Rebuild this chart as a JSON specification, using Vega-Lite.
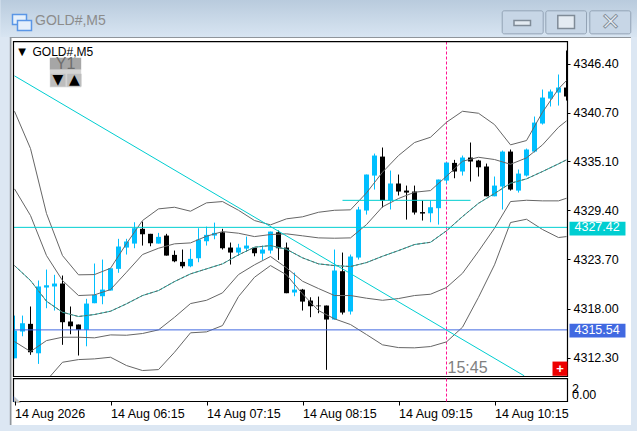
{
  "$schema": "https://vega.github.io/schema/vega-lite/v6.json",
  "autosize": {"type": "none"},
  "width": 621,
  "height": 387,
  "padding": {"left": 10, "top": 38, "right": 6, "bottom": 6},
  "background": "#dce7f3",
  "view": {"fill": "white", "stroke": null},
  "title": {"text": "GOLD#,M5", "anchor": "start", "frame": "group", "dx": 25, "offset": -28, "font": "Liberation Sans", "fontSize": 14, "fontWeight": "normal", "color": "#8c8c8c", "zindex": 1},
  "config": {"axis": {"title": null, "grid": false, "domain": false, "labelFont": "Liberation Sans", "labelFontSize": 12.5, "labelColor": "black", "tickColor": "black", "tickSize": 3}},
  "datasets": {
    "candles": [
      {"t":"2026-08-14T05:15:00Z","o":4312.25,"h":4317.20,"l":4312.25,"c":4315.46},
      {"t":"2026-08-14T05:20:00Z","o":4315.35,"h":4317.20,"l":4314.80,"c":4316.31},
      {"t":"2026-08-14T05:25:00Z","o":4316.24,"h":4318.25,"l":4312.65,"c":4312.95},
      {"t":"2026-08-14T05:30:00Z","o":4312.83,"h":4321.26,"l":4311.60,"c":4320.57},
      {"t":"2026-08-14T05:35:00Z","o":4320.45,"h":4322.53,"l":4318.05,"c":4320.71},
      {"t":"2026-08-14T05:40:00Z","o":4320.57,"h":4321.92,"l":4317.78,"c":4320.91},
      {"t":"2026-08-14T05:45:00Z","o":4320.91,"h":4321.84,"l":4313.81,"c":4316.43},
      {"t":"2026-08-14T05:50:00Z","o":4316.51,"h":4318.25,"l":4315.04,"c":4315.96},
      {"t":"2026-08-14T05:55:00Z","o":4316.16,"h":4316.16,"l":4312.57,"c":4315.55},
      {"t":"2026-08-14T06:00:00Z","o":4315.55,"h":4319.14,"l":4313.64,"c":4318.59},
      {"t":"2026-08-14T06:05:00Z","o":4318.63,"h":4323.23,"l":4318.63,"c":4319.60},
      {"t":"2026-08-14T06:10:00Z","o":4319.44,"h":4323.69,"l":4318.51,"c":4320.21},
      {"t":"2026-08-14T06:15:00Z","o":4320.10,"h":4322.68,"l":4320.10,"c":4322.68},
      {"t":"2026-08-14T06:20:00Z","o":4322.61,"h":4326.09,"l":4322.15,"c":4325.20},
      {"t":"2026-08-14T06:25:00Z","o":4325.08,"h":4326.09,"l":4324.27,"c":4325.78},
      {"t":"2026-08-14T06:30:00Z","o":4325.54,"h":4328.01,"l":4325.00,"c":4327.32},
      {"t":"2026-08-14T06:35:00Z","o":4327.25,"h":4328.09,"l":4325.31,"c":4326.62},
      {"t":"2026-08-14T06:40:00Z","o":4326.67,"h":4326.67,"l":4325.23,"c":4325.58},
      {"t":"2026-08-14T06:45:00Z","o":4325.54,"h":4326.78,"l":4325.54,"c":4326.32},
      {"t":"2026-08-14T06:50:00Z","o":4326.47,"h":4326.67,"l":4324.15,"c":4324.15},
      {"t":"2026-08-14T06:55:00Z","o":4324.23,"h":4324.73,"l":4323.38,"c":4323.49},
      {"t":"2026-08-14T07:00:00Z","o":4323.42,"h":4324.85,"l":4322.68,"c":4322.91},
      {"t":"2026-08-14T07:05:00Z","o":4322.91,"h":4324.93,"l":4322.80,"c":4323.77},
      {"t":"2026-08-14T07:10:00Z","o":4323.84,"h":4327.32,"l":4323.38,"c":4326.01},
      {"t":"2026-08-14T07:15:00Z","o":4325.81,"h":4327.51,"l":4325.31,"c":4326.55},
      {"t":"2026-08-14T07:20:00Z","o":4326.47,"h":4327.97,"l":4326.04,"c":4326.78},
      {"t":"2026-08-14T07:25:00Z","o":4326.85,"h":4327.25,"l":4324.85,"c":4325.00},
      {"t":"2026-08-14T07:30:00Z","o":4325.08,"h":4325.66,"l":4323.11,"c":4324.50},
      {"t":"2026-08-14T07:35:00Z","o":4324.50,"h":4325.51,"l":4324.12,"c":4325.08},
      {"t":"2026-08-14T07:40:00Z","o":4324.96,"h":4326.35,"l":4324.58,"c":4325.31},
      {"t":"2026-08-14T07:45:00Z","o":4325.05,"h":4325.05,"l":4324.07,"c":4324.42},
      {"t":"2026-08-14T07:50:00Z","o":4324.38,"h":4325.31,"l":4323.65,"c":4324.85},
      {"t":"2026-08-14T07:55:00Z","o":4324.73,"h":4326.93,"l":4324.38,"c":4326.93},
      {"t":"2026-08-14T08:00:00Z","o":4326.85,"h":4327.05,"l":4323.65,"c":4325.00},
      {"t":"2026-08-14T08:05:00Z","o":4325.08,"h":4325.66,"l":4319.79,"c":4319.79},
      {"t":"2026-08-14T08:10:00Z","o":4319.87,"h":4322.18,"l":4319.44,"c":4320.21},
      {"t":"2026-08-14T08:15:00Z","o":4320.21,"h":4320.29,"l":4317.78,"c":4318.82},
      {"t":"2026-08-14T08:20:00Z","o":4318.94,"h":4319.32,"l":4317.01,"c":4318.28},
      {"t":"2026-08-14T08:25:00Z","o":4318.36,"h":4319.40,"l":4317.47,"c":4318.28},
      {"t":"2026-08-14T08:30:00Z","o":4318.36,"h":4318.36,"l":4310.91,"c":4316.74},
      {"t":"2026-08-14T08:35:00Z","o":4316.74,"h":4324.85,"l":4316.74,"c":4322.42},
      {"t":"2026-08-14T08:40:00Z","o":4322.34,"h":4324.50,"l":4317.32,"c":4317.55},
      {"t":"2026-08-14T08:45:00Z","o":4317.67,"h":4324.27,"l":4317.32,"c":4324.04},
      {"t":"2026-08-14T08:50:00Z","o":4323.92,"h":4329.80,"l":4323.69,"c":4329.49},
      {"t":"2026-08-14T08:55:00Z","o":4329.37,"h":4333.54,"l":4328.90,"c":4333.54},
      {"t":"2026-08-14T09:00:00Z","o":4333.42,"h":4335.97,"l":4331.80,"c":4335.74},
      {"t":"2026-08-14T09:05:00Z","o":4335.62,"h":4336.67,"l":4329.72,"c":4330.53},
      {"t":"2026-08-14T09:10:00Z","o":4330.53,"h":4334.00,"l":4329.49,"c":4332.50},
      {"t":"2026-08-14T09:15:00Z","o":4332.50,"h":4333.54,"l":4331.11,"c":4331.57},
      {"t":"2026-08-14T09:20:00Z","o":4331.68,"h":4332.26,"l":4328.32,"c":4331.45},
      {"t":"2026-08-14T09:25:00Z","o":4331.57,"h":4332.26,"l":4328.90,"c":4329.14},
      {"t":"2026-08-14T09:30:00Z","o":4329.19,"h":4330.53,"l":4328.21,"c":4329.02},
      {"t":"2026-08-14T09:35:00Z","o":4329.05,"h":4330.53,"l":4328.01,"c":4329.75},
      {"t":"2026-08-14T09:40:00Z","o":4329.64,"h":4332.96,"l":4327.74,"c":4332.96},
      {"t":"2026-08-14T09:45:00Z","o":4332.84,"h":4334.93,"l":4332.50,"c":4334.93},
      {"t":"2026-08-14T09:50:00Z","o":4334.89,"h":4335.24,"l":4333.11,"c":4333.89},
      {"t":"2026-08-14T09:55:00Z","o":4333.89,"h":4335.74,"l":4333.42,"c":4335.51},
      {"t":"2026-08-14T10:00:00Z","o":4335.51,"h":4337.25,"l":4332.73,"c":4335.05},
      {"t":"2026-08-14T10:05:00Z","o":4335.16,"h":4335.24,"l":4333.31,"c":4334.38},
      {"t":"2026-08-14T10:10:00Z","o":4334.47,"h":4334.81,"l":4331.02,"c":4331.02},
      {"t":"2026-08-14T10:15:00Z","o":4331.02,"h":4333.31,"l":4331.02,"c":4332.26},
      {"t":"2026-08-14T10:20:00Z","o":4332.15,"h":4336.32,"l":4329.49,"c":4336.20},
      {"t":"2026-08-14T10:25:00Z","o":4336.20,"h":4336.44,"l":4331.68,"c":4331.80},
      {"t":"2026-08-14T10:30:00Z","o":4331.68,"h":4334.12,"l":4331.45,"c":4333.65},
      {"t":"2026-08-14T10:35:00Z","o":4333.42,"h":4336.55,"l":4333.31,"c":4336.44},
      {"t":"2026-08-14T10:40:00Z","o":4336.20,"h":4340.26,"l":4336.09,"c":4339.56},
      {"t":"2026-08-14T10:45:00Z","o":4339.45,"h":4343.39,"l":4339.33,"c":4342.46},
      {"t":"2026-08-14T10:50:00Z","o":4342.34,"h":4343.39,"l":4341.42,"c":4343.16},
      {"t":"2026-08-14T10:55:00Z","o":4343.04,"h":4345.13,"l":4341.53,"c":4343.62},
      {"t":"2026-08-14T11:00:00Z","o":4343.62,"h":4347.91,"l":4342.11,"c":4342.58}
    ],
    "bands": [
      {"t":"2026-08-14T05:15:00Z","u2":4340.87,"u1":4331.88,"m":4322.99,"l1":4314.19},
      {"t":"2026-08-14T05:25:00Z","u2":4336.55,"u1":4328.79,"m":4321.26,"l1":4313.03},
      {"t":"2026-08-14T05:35:00Z","u2":4329.02,"u1":4324.15,"m":4318.86,"l1":4314.30,"l2":4309.67},
      {"t":"2026-08-14T05:45:00Z","u2":4324.15,"u1":4321.26,"m":4317.58,"l1":4314.69,"l2":4311.79},
      {"t":"2026-08-14T05:55:00Z","u2":4321.92,"u1":4319.52,"m":4317.09,"l1":4314.69,"l2":4312.10},
      {"t":"2026-08-14T06:05:00Z","u2":4321.95,"u1":4319.60,"m":4317.32,"l1":4314.62,"l2":4312.18},
      {"t":"2026-08-14T06:15:00Z","u2":4322.68,"u1":4320.21,"m":4317.70,"l1":4314.96,"l2":4312.37},
      {"t":"2026-08-14T06:25:00Z","u2":4325.54,"u1":4322.22,"m":4318.56,"l1":4314.92,"l2":4311.41},
      {"t":"2026-08-14T06:35:00Z","u2":4328.21,"u1":4324.27,"m":4319.52,"l1":4315.12,"l2":4310.83},
      {"t":"2026-08-14T06:45:00Z","u2":4329.56,"u1":4325.00,"m":4320.10,"l1":4315.54,"l2":4310.94},
      {"t":"2026-08-14T06:55:00Z","u2":4329.75,"u1":4325.51,"m":4321.14,"l1":4317.00,"l2":4312.95},
      {"t":"2026-08-14T07:05:00Z","u2":4329.29,"u1":4325.62,"m":4322.03,"l1":4318.59,"l2":4315.20},
      {"t":"2026-08-14T07:15:00Z","u2":4330.26,"u1":4326.39,"m":4322.61,"l1":4318.97,"l2":4315.31},
      {"t":"2026-08-14T07:25:00Z","u2":4330.41,"u1":4326.93,"m":4323.19,"l1":4319.83,"l2":4316.04},
      {"t":"2026-08-14T07:35:00Z","u2":4329.40,"u1":4326.74,"m":4324.23,"l1":4321.95,"l2":4319.40},
      {"t":"2026-08-14T07:45:00Z","u2":4328.21,"u1":4326.35,"m":4325.12,"l1":4323.08,"l2":4321.64},
      {"t":"2026-08-14T07:55:00Z","u2":4327.71,"u1":4326.59,"m":4325.31,"l1":4324.04,"l2":4322.99},
      {"t":"2026-08-14T08:05:00Z","u2":4328.41,"u1":4326.67,"m":4324.88,"l1":4322.73,"l2":4321.92},
      {"t":"2026-08-14T08:15:00Z","u2":4328.64,"u1":4326.44,"m":4323.89,"l1":4321.18,"l2":4319.71},
      {"t":"2026-08-14T08:25:00Z","u2":4329.17,"u1":4326.20,"m":4323.19,"l1":4320.33,"l2":4317.78},
      {"t":"2026-08-14T08:35:00Z","u2":4329.40,"u1":4326.16,"m":4322.99,"l1":4319.52,"l2":4316.82},
      {"t":"2026-08-14T08:45:00Z","u2":4329.45,"u1":4326.20,"m":4322.88,"l1":4319.52,"l2":4316.16},
      {"t":"2026-08-14T08:55:00Z","u2":4331.42,"u1":4327.74,"m":4323.34,"l1":4319.21,"l2":4315.00},
      {"t":"2026-08-14T09:05:00Z","u2":4333.81,"u1":4329.80,"m":4324.07,"l1":4318.97,"l2":4313.81},
      {"t":"2026-08-14T09:15:00Z","u2":4335.74,"u1":4330.76,"m":4324.73,"l1":4319.17,"l2":4313.49},
      {"t":"2026-08-14T09:25:00Z","u2":4337.25,"u1":4331.49,"m":4325.43,"l1":4319.52,"l2":4313.46},
      {"t":"2026-08-14T09:35:00Z","u2":4337.86,"u1":4331.68,"m":4325.69,"l1":4319.67,"l2":4313.61},
      {"t":"2026-08-14T09:45:00Z","u2":4339.60,"u1":4333.34,"m":4327.02,"l1":4320.45,"l2":4314.15},
      {"t":"2026-08-14T09:55:00Z","u2":4340.87,"u1":4335.08,"m":4328.67,"l1":4322.10,"l2":4315.85},
      {"t":"2026-08-14T10:05:00Z","u2":4340.64,"u1":4335.54,"m":4330.21,"l1":4324.65,"l2":4319.32},
      {"t":"2026-08-14T10:15:00Z","u2":4339.33,"u1":4335.28,"m":4331.34,"l1":4327.32,"l2":4323.08},
      {"t":"2026-08-14T10:25:00Z","u2":4336.98,"u1":4334.73,"m":4332.53,"l1":4330.41,"l2":4327.98},
      {"t":"2026-08-14T10:35:00Z","u2":4337.48,"u1":4335.47,"m":4333.04,"l1":4330.56,"l2":4328.36},
      {"t":"2026-08-14T10:45:00Z","u2":4340.76,"u1":4336.98,"m":4333.89,"l1":4330.49,"l2":4327.17},
      {"t":"2026-08-14T10:55:00Z","u2":4343.47,"u1":4339.02,"m":4334.78,"l1":4330.49,"l2":4326.24},
      {"t":"2026-08-14T11:00:00Z","u2":4344.43,"u1":4339.76,"m":4335.24,"l1":4330.79,"l2":4326.35}
    ],
    "levels": [
      {"level":"upper","p":4327.42,"label":"4327.42","t":"2026-08-14T05:14:22Z","t2":"2026-08-14T11:00:37Z","tagFrom":"2026-08-14T11:01:52Z","tagTo":"2026-08-14T11:36:52Z","tagTop":4328.06,"tagBottom":4326.47,"labelAt":"2026-08-14T11:05:00Z"},
      {"level":"lower","p":4315.54,"label":"4315.54","t":"2026-08-14T05:14:22Z","t2":"2026-08-14T11:00:37Z","tagFrom":"2026-08-14T11:01:52Z","tagTo":"2026-08-14T11:36:52Z","tagTop":4316.24,"tagBottom":4314.65,"labelAt":"2026-08-14T11:05:00Z"}
    ],
    "lines": [
      {"name":"trend","t":"2026-08-14T05:15:00Z","p":4344.97},
      {"name":"trend","t":"2026-08-14T10:33:34Z","p":4310.22},
      {"name":"segment","t":"2026-08-14T08:40:00Z","p":4330.55},
      {"name":"segment","t":"2026-08-14T10:00:00Z","p":4330.55}
    ],
    "marker": [
      {"pane":"main","t":"2026-08-14T09:45:00Z","p":4348.95,"p2":4310.14},
      {"pane":"sub","t":"2026-08-14T09:45:00Z","p":4309.90,"p2":4307.24}
    ],
    "window": [
      {"part":"edge","t":"2026-08-14T05:12:04Z","t2":"2026-08-14T05:13:07Z","p":4349.41,"p2":4304.52},
      {"part":"edge","t":"2026-08-14T05:12:04Z","t2":"2026-08-14T11:40:18Z","p":4349.47,"p2":4349.36},
      {"part":"icon","t":"2026-08-14T05:13:45Z","t2":"2026-08-14T05:22:30Z","p":4352.08,"p2":4350.92},
      {"part":"icon","t":"2026-08-14T05:16:52Z","t2":"2026-08-14T05:25:37Z","p":4351.38,"p2":4350.22}
    ],
    "buttons": [
      {"t":"2026-08-14T10:19:49Z","t2":"2026-08-14T10:45:26Z","p":4352.51,"p2":4349.84},
      {"t":"2026-08-14T10:47:04Z","t2":"2026-08-14T11:12:30Z","p":4352.51,"p2":4349.84},
      {"t":"2026-08-14T11:14:34Z","t2":"2026-08-14T11:40:10Z","p":4352.51,"p2":4349.84}
    ],
    "glyphs": [
      {"t":"2026-08-14T10:27:11Z","t2":"2026-08-14T10:37:30Z","p":4351.38,"p2":4350.80},
      {"t":"2026-08-14T10:54:34Z","t2":"2026-08-14T11:05:00Z","p":4351.96,"p2":4350.46}
    ],
    "cover": [
      {"t":"2026-08-14T05:14:22Z","t2":"2026-08-14T11:00:37Z","p":4310.14,"p2":4307.24},
      {"t":"2026-08-14T11:00:37Z","t2":"2026-08-14T11:02:00Z","p":4348.95,"p2":4307.24},
      {"t":"2026-08-14T05:13:30Z","t2":"2026-08-14T05:14:22Z","p":4348.95,"p2":4307.24}
    ],
    "panes": [
      {"t":"2026-08-14T05:14:22Z","t2":"2026-08-14T11:00:37Z","p":4348.95,"p2":4310.14},
      {"t":"2026-08-14T05:14:22Z","t2":"2026-08-14T11:00:37Z","p":4309.90,"p2":4307.24}
    ],
    "widgets": [
      {"part":"y1","t":"2026-08-14T05:37:04Z","t2":"2026-08-14T05:56:41Z","p":4347.06,"p2":4345.67},
      {"part":"panel","t":"2026-08-14T05:37:04Z","t2":"2026-08-14T05:56:41Z","p":4345.67,"p2":4343.65},
      {"part":"key","t":"2026-08-14T05:37:30Z","t2":"2026-08-14T05:46:52Z","p":4345.21,"p2":4343.74},
      {"part":"key","t":"2026-08-14T05:47:56Z","t2":"2026-08-14T05:56:52Z","p":4345.21,"p2":4343.74},
      {"part":"plus","t":"2026-08-14T10:51:15Z","t2":"2026-08-14T11:00:37Z","p":4311.87,"p2":4310.22}
    ],
    "notes": [
      {"kind":"symbol","t":"2026-08-14T05:26:15Z","p":4347.73,"text":"GOLD#,M5"},
      {"kind":"arrow","t":"2026-08-14T05:19:41Z","p":4347.73,"text":"▼"},
      {"kind":"key","t":"2026-08-14T05:42:11Z","p":4344.49,"text":"▼"},
      {"kind":"key","t":"2026-08-14T05:52:22Z","p":4344.49,"text":"▲"},
      {"kind":"y1","t":"2026-08-14T05:46:52Z","p":4346.34,"text":"Y1"},
      {"kind":"time","t":"2026-08-14T09:45:37Z","p":4311.18,"text":"15:45"},
      {"kind":"plus","t":"2026-08-14T10:56:00Z","p":4311.0,"text":"+"},
      {"kind":"sub","t":"2026-08-14T11:03:26Z","p":4308.72,"text":"2"},
      {"kind":"sub","t":"2026-08-14T11:03:26Z","p":4308.03,"text":"0.00"},
      {"kind":"corner","t":"2026-08-14T05:16:52Z","p":4307.58,"text":"◣"},
      {"kind":"close","t":"2026-08-14T11:27:30Z","p":4351.15,"text":"✕"}
    ]
  },
  "encoding": {
    "x": {
      "field": "t",
      "type": "temporal",
      "scale": {
        "type": "utc",
        "padding": 0,
        "domain": [
          {"year": 2026, "month": 8, "date": 14, "hours": 5, "minutes": 12, "seconds": 11, "milliseconds": 250, "utc": true},
          {"year": 2026, "month": 8, "date": 14, "hours": 11, "minutes": 40, "seconds": 18, "milliseconds": 750, "utc": true}
        ]
      },
      "axis": {
        "orient": "bottom",
        "offset": -24,
        "zindex": 1,
        "values": [
          {"year": 2026, "month": 8, "date": 14, "hours": 5, "minutes": 15, "utc": true},
          {"year": 2026, "month": 8, "date": 14, "hours": 6, "minutes": 15, "utc": true},
          {"year": 2026, "month": 8, "date": 14, "hours": 7, "minutes": 15, "utc": true},
          {"year": 2026, "month": 8, "date": 14, "hours": 8, "minutes": 15, "utc": true},
          {"year": 2026, "month": 8, "date": 14, "hours": 9, "minutes": 15, "utc": true},
          {"year": 2026, "month": 8, "date": 14, "hours": 10, "minutes": 15, "utc": true}
        ],
        "labelExpr": "utcFormat(datum.value, '%H:%M') == '05:15' ? '14 Aug 2026' : utcFormat(datum.value, '%d %b %H:%M')",
        "labelAlign": "left",
        "labelPadding": 2,
        "tickSize": 4
      }
    },
    "y": {
      "field": "p",
      "type": "quantitative",
      "scale": {"domain": [4304.52, 4349.36], "zero": false, "nice": false},
      "axis": {
        "orient": "right",
        "offset": -64,
        "zindex": 1,
        "values": [4312.3, 4318, 4323.7, 4329.4, 4335.1, 4340.7, 4346.4],
        "format": ".2f",
        "labelPadding": 3
      }
    }
  },
  "layer": [
    {
      "data": {"values": [{"t": "2026-08-14T05:06:15Z", "t2": "2026-08-14T11:44:22Z", "p": 4353.76, "p2": 4349.47}], "format": {"parse": {"t": "date", "t2": "date"}}},
      "mark": {"type": "rect", "color": {"gradient": "linear", "x1": 0, "y1": 0, "x2": 0, "y2": 1, "stops": [{"offset": 0, "color": "#b9cbdd"}, {"offset": 1, "color": "#d8e5f2"}]}},
      "encoding": {"x2": {"field": "t2"}, "y2": {"field": "p2"}}
    },
    {
      "data": {"name": "window", "format": {"parse": {"t": "date", "t2": "date"}}},
      "transform": [{"filter": "datum.part == 'edge'"}],
      "mark": {"type": "rect", "color": "#8f959b"},
      "encoding": {"x2": {"field": "t2"}, "y2": {"field": "p2"}}
    },
    {
      "data": {"name": "window", "format": {"parse": {"t": "date", "t2": "date"}}},
      "transform": [{"filter": "datum.part == 'icon'"}],
      "mark": {"type": "rect", "fill": "#e6f0fb", "stroke": "#5a96e6", "strokeWidth": 1.5},
      "encoding": {"x2": {"field": "t2"}, "y2": {"field": "p2"}}
    },
    {
      "data": {"name": "buttons", "format": {"parse": {"t": "date", "t2": "date"}}},
      "mark": {"type": "rect", "fill": "#c7d6e6", "stroke": "#93a3b5", "cornerRadius": 2},
      "encoding": {"x2": {"field": "t2"}, "y2": {"field": "p2"}}
    },
    {
      "data": {"name": "glyphs", "format": {"parse": {"t": "date", "t2": "date"}}},
      "mark": {"type": "rect", "fill": "#e4ebf2", "stroke": "#7f8b97", "strokeWidth": 1.5},
      "encoding": {"x2": {"field": "t2"}, "y2": {"field": "p2"}}
    },
    {
      "data": {"name": "marker", "format": {"parse": {"t": "date"}}},
      "transform": [{"filter": "datum.pane == 'main'"}],
      "mark": {"type": "rule", "color": "#ff1493", "strokeWidth": 1, "strokeDash": [3, 2]},
      "encoding": {"y2": {"field": "p2"}}
    },
    {
      "data": {"name": "candles"},
      "mark": {"type": "rule", "strokeWidth": 1},
      "encoding": {
        "y": {"field": "l", "type": "quantitative"},
        "y2": {"field": "h"},
        "color": {"condition": {"test": "datum.c >= datum.o", "value": "#00bfff"}, "value": "black"}
      }
    },
    {
      "data": {"name": "candles"},
      "mark": {"type": "bar", "size": 5},
      "encoding": {
        "y": {"field": "o", "type": "quantitative"},
        "y2": {"field": "c"},
        "color": {"condition": {"test": "datum.c >= datum.o", "value": "#00bfff"}, "value": "black"}
      }
    },
    {
      "data": {"name": "bands"},
      "transform": [{"fold": ["u2", "u1", "l1", "l2"], "as": ["band", "value"]}],
      "mark": {"type": "line", "color": "#666666", "strokeWidth": 1},
      "encoding": {
        "y": {"field": "value", "type": "quantitative"},
        "detail": {"field": "band"}
      }
    },
    {
      "data": {"name": "bands"},
      "mark": {"type": "line", "color": "#20b2aa", "strokeWidth": 1},
      "encoding": {"y": {"field": "m", "type": "quantitative"}}
    },
    {
      "data": {"name": "bands"},
      "mark": {"type": "line", "color": "#666666", "strokeWidth": 1, "strokeDash": [3, 2]},
      "encoding": {"y": {"field": "m", "type": "quantitative"}}
    },
    {
      "data": {"name": "levels", "format": {"parse": {"t": "date", "t2": "date"}}},
      "mark": {"type": "rule", "strokeWidth": 1},
      "encoding": {
        "x2": {"field": "t2"},
        "color": {"field": "level", "type": "nominal", "scale": {"domain": ["upper", "lower"], "range": ["#00ced1", "#4169e1"]}, "legend": null}
      }
    },
    {
      "data": {"name": "lines"},
      "mark": {"type": "line", "color": "#00ced1", "strokeWidth": 1},
      "encoding": {"detail": {"field": "name"}}
    },
    {
      "data": {"name": "cover", "format": {"parse": {"t": "date", "t2": "date"}}},
      "mark": {"type": "rect", "color": "white"},
      "encoding": {"x2": {"field": "t2"}, "y2": {"field": "p2"}}
    },
    {
      "data": {"name": "panes", "format": {"parse": {"t": "date", "t2": "date"}}},
      "mark": {"type": "rect", "fill": null, "stroke": "black", "strokeWidth": 1.2},
      "encoding": {"x2": {"field": "t2"}, "y2": {"field": "p2"}}
    },
    {
      "data": {"name": "marker", "format": {"parse": {"t": "date"}}},
      "transform": [{"filter": "datum.pane == 'sub'"}],
      "mark": {"type": "rule", "color": "#ff1493", "strokeWidth": 1, "strokeDash": [3, 2]},
      "encoding": {"y2": {"field": "p2"}}
    },
    {
      "data": {"name": "widgets", "format": {"parse": {"t": "date", "t2": "date"}}},
      "mark": {"type": "rect"},
      "encoding": {
        "x2": {"field": "t2"},
        "y2": {"field": "p2"},
        "fill": {"field": "part", "type": "nominal", "scale": {"domain": ["y1", "panel", "key", "plus"], "range": ["#a6a6a6", "#d4d4d4", "#bdbdbd", "#ee0000"]}, "legend": null}
      }
    },
    {
      "data": {"name": "levels", "format": {"parse": {"tagFrom": "date", "tagTo": "date", "labelAt": "date"}}},
      "mark": {"type": "rect"},
      "encoding": {
        "x": {"field": "tagFrom", "type": "temporal"},
        "x2": {"field": "tagTo"},
        "y": {"field": "tagTop", "type": "quantitative"},
        "y2": {"field": "tagBottom"},
        "color": {"field": "level", "type": "nominal", "scale": {"domain": ["upper", "lower"], "range": ["#00ced1", "#4169e1"]}, "legend": null}
      }
    },
    {
      "data": {"name": "levels", "format": {"parse": {"labelAt": "date"}}},
      "mark": {"type": "text", "align": "left", "baseline": "middle", "color": "white", "font": "Liberation Sans", "fontSize": 12.5},
      "encoding": {"x": {"field": "labelAt", "type": "temporal"}, "text": {"field": "label"}}
    },
    {
      "data": {"name": "notes"},
      "transform": [{"filter": "datum.kind == 'symbol'"}],
      "mark": {"type": "text", "align": "left", "baseline": "middle", "color": "black", "font": "Liberation Sans", "fontSize": 12},
      "encoding": {"text": {"field": "text"}}
    },
    {
      "data": {"name": "notes"},
      "transform": [{"filter": "datum.kind == 'arrow'"}],
      "mark": {"type": "text", "align": "center", "baseline": "middle", "color": "black", "font": "DejaVu Sans", "fontSize": 10},
      "encoding": {"text": {"field": "text"}}
    },
    {
      "data": {"name": "notes"},
      "transform": [{"filter": "datum.kind == 'key'"}],
      "mark": {"type": "text", "align": "center", "baseline": "middle", "color": "black", "font": "DejaVu Sans", "fontSize": 14},
      "encoding": {"text": {"field": "text"}}
    },
    {
      "data": {"name": "notes"},
      "transform": [{"filter": "datum.kind == 'y1'"}],
      "mark": {"type": "text", "align": "center", "baseline": "middle", "color": "#6e6e6e", "font": "Liberation Sans", "fontSize": 16},
      "encoding": {"text": {"field": "text"}}
    },
    {
      "data": {"name": "notes"},
      "transform": [{"filter": "datum.kind == 'time'"}],
      "mark": {"type": "text", "align": "left", "baseline": "middle", "color": "#808080", "font": "Liberation Sans", "fontSize": 16},
      "encoding": {"text": {"field": "text"}}
    },
    {
      "data": {"name": "notes"},
      "transform": [{"filter": "datum.kind == 'plus'"}],
      "mark": {"type": "text", "align": "center", "baseline": "middle", "color": "white", "font": "Liberation Sans", "fontWeight": "bold", "fontSize": 13},
      "encoding": {"text": {"field": "text"}}
    },
    {
      "data": {"name": "notes"},
      "transform": [{"filter": "datum.kind == 'sub'"}],
      "mark": {"type": "text", "align": "left", "baseline": "middle", "color": "black", "font": "Liberation Sans", "fontSize": 12.5},
      "encoding": {"text": {"field": "text"}}
    },
    {
      "data": {"name": "notes"},
      "transform": [{"filter": "datum.kind == 'corner'"}],
      "mark": {"type": "text", "align": "center", "baseline": "middle", "color": "#c4c4c4", "font": "DejaVu Sans", "fontSize": 9},
      "encoding": {"text": {"field": "text"}}
    },
    {
      "data": {"name": "notes"},
      "transform": [{"filter": "datum.kind == 'close'"}],
      "mark": {"type": "text", "align": "center", "baseline": "middle", "color": "#e8eef4", "stroke": "#7c8894", "strokeWidth": 0.8, "font": "DejaVu Sans", "fontWeight": "bold", "fontSize": 24},
      "encoding": {"text": {"field": "text"}}
    }
  ]
}
